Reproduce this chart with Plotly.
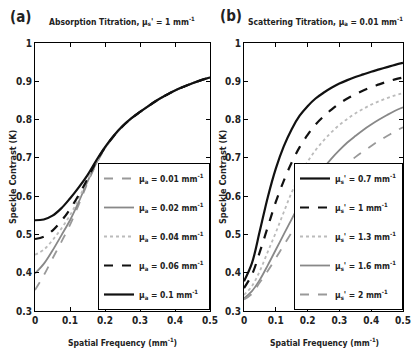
import plotly.graph_objects as go

freq = [0, 0.025, 0.05, 0.075, 0.1, 0.125, 0.15, 0.175, 0.2, 0.225, 0.25,
        0.275, 0.3, 0.325, 0.35, 0.375, 0.4, 0.425, 0.45, 0.475, 0.5]

# Panel (a): absorption titration (mu_a values), speckle contrast K
abs_labels = ["0.01", "0.02", "0.04", "0.06", "0.1"]
abs_k = [
    [0.355, 0.393, 0.437, 0.480, 0.525, 0.578, 0.634, 0.684, 0.725, 0.756, 0.782, 0.803, 0.820,
     0.836, 0.851, 0.864, 0.876, 0.886, 0.895, 0.903, 0.910],
    [0.398, 0.423, 0.458, 0.497, 0.537, 0.585, 0.638, 0.686, 0.726, 0.756, 0.782, 0.803, 0.820,
     0.836, 0.851, 0.864, 0.876, 0.886, 0.895, 0.903, 0.910],
    [0.447, 0.460, 0.485, 0.515, 0.550, 0.594, 0.642, 0.688, 0.726, 0.757, 0.782, 0.803, 0.820,
     0.836, 0.851, 0.864, 0.876, 0.886, 0.895, 0.903, 0.910],
    [0.488, 0.494, 0.510, 0.535, 0.566, 0.603, 0.645, 0.690, 0.727, 0.757, 0.782, 0.803, 0.820,
     0.836, 0.851, 0.864, 0.876, 0.886, 0.895, 0.903, 0.910],
    [0.537, 0.539, 0.549, 0.568, 0.594, 0.623, 0.655, 0.693, 0.728, 0.758, 0.783, 0.803, 0.820,
     0.836, 0.851, 0.864, 0.876, 0.886, 0.895, 0.903, 0.910],
]

# Panel (b): scattering titration (mu_s' values), speckle contrast K
sca_labels = ["0.7", "1", "1.3", "1.6", "2"]
sca_k = [
    [0.378, 0.425, 0.510, 0.598, 0.672, 0.730, 0.775, 0.810, 0.835, 0.855, 0.870, 0.883, 0.894,
     0.903, 0.911, 0.918, 0.925, 0.931, 0.937, 0.943, 0.948],
    [0.360, 0.395, 0.455, 0.520, 0.585, 0.640, 0.688, 0.728, 0.760, 0.787, 0.808, 0.826, 0.842,
     0.855, 0.866, 0.876, 0.885, 0.892, 0.899, 0.905, 0.910],
    [0.342, 0.365, 0.405, 0.455, 0.505, 0.558, 0.610, 0.652, 0.690, 0.720, 0.745, 0.767, 0.786,
     0.802, 0.816, 0.828, 0.839, 0.848, 0.856, 0.863, 0.869],
    [0.333, 0.352, 0.382, 0.420, 0.460, 0.500, 0.540, 0.578, 0.613, 0.645, 0.673, 0.698, 0.720,
     0.740, 0.757, 0.773, 0.787, 0.800, 0.812, 0.823, 0.832],
    [0.330, 0.345, 0.375, 0.405, 0.438, 0.472, 0.505, 0.537, 0.568, 0.596, 0.622, 0.645, 0.666,
     0.685, 0.702, 0.717, 0.731, 0.745, 0.757, 0.769, 0.780],
]

x_ticks = [0, 0.1, 0.2, 0.3, 0.4, 0.5]
x_ticktext = ["0", "0.1", "0.2", "0.3", "0.4", "0.5"]
y_ticks = [0.3, 0.4, 0.5, 0.6, 0.7, 0.8, 0.9, 1.0]
y_ticktext = ["0.3", "0.4", "0.5", "0.6", "0.7", "0.8", "0.9", "1"]

styles_a = [
    dict(color="#999999", dash="dash", width=1.8),
    dict(color="#888888", dash="solid", width=1.8),
    dict(color="#bbbbbb", dash="dot", width=1.8),
    dict(color="#111111", dash="dash", width=2.2),
    dict(color="#111111", dash="solid", width=2.2),
]
styles_b = [
    dict(color="#111111", dash="solid", width=2.2),
    dict(color="#111111", dash="dash", width=2.2),
    dict(color="#bbbbbb", dash="dot", width=1.8),
    dict(color="#888888", dash="solid", width=1.8),
    dict(color="#999999", dash="dash", width=1.8),
]

FONT = "Liberation Sans Narrow, DejaVu Sans Condensed, Liberation Sans, Arial, sans-serif"
OFF = 8  # default page body margin
W, H = 419 - 2 * OFF, 356 - 2 * OFF

fig = go.Figure()
for i, lab in enumerate(abs_labels):
    fig.add_trace(go.Scatter(
        x=freq, y=abs_k[i], mode="lines", line=dict(shape="spline", **styles_a[i]),
        name=f"μ<sub>a</sub> = {lab} mm<sup>-1</sup>", xaxis="x", yaxis="y",
        legend="legend", legendgroup=f"a{i}"))
for i, lab in enumerate(sca_labels):
    fig.add_trace(go.Scatter(
        x=freq, y=sca_k[i], mode="lines", line=dict(shape="spline", **styles_b[i]),
        name=f"μ<sub>s</sub>' = {lab} mm<sup>-1</sup>", xaxis="x2", yaxis="y2",
        legend="legend2", legendgroup=f"b{i}"))

def px(x):
    return (x - OFF) / W

def py(y):
    return 1 - (y - OFF) / H

ydom = [py(311), py(43)]
axis_common = dict(showline=True, linecolor="black", linewidth=1, mirror="ticks",
                   ticks="inside", ticklen=4, tickcolor="black", showgrid=False,
                   zeroline=False, automargin=False,
                   tickfont=dict(family=FONT, size=10, color="#222", weight="bold"))

leg_common = dict(yanchor="top", bgcolor="white", bordercolor="black", borderwidth=1,
                  font=dict(family=FONT, size=8.5, color="#222", weight="bold"),
                  tracegroupgap=10, itemwidth=30)

RIGHT = 403
fig.update_layout(
    width=W, height=H, margin=dict(l=0, r=0, t=0, b=0, autoexpand=False),
    paper_bgcolor="white", plot_bgcolor="white",
    font=dict(family=FONT, color="#222"),
    xaxis=dict(domain=[px(35), px(210)], range=[0, 0.5], tickvals=x_ticks, ticktext=x_ticktext,
               anchor="y", **axis_common),
    yaxis=dict(domain=ydom, range=[0.3, 1.0], tickvals=y_ticks, ticktext=y_ticktext,
               anchor="x", **axis_common),
    xaxis2=dict(domain=[px(244), px(RIGHT)], range=[0, 0.5], tickvals=x_ticks, ticktext=x_ticktext,
                anchor="y2", **axis_common),
    yaxis2=dict(domain=ydom, range=[0.3, 1.0], tickvals=y_ticks, ticktext=y_ticktext,
                anchor="x2", **axis_common),
    legend=dict(x=px(210), y=py(163), xanchor="right", **leg_common),
    legend2=dict(x=px(RIGHT), y=py(163), xanchor="right", **leg_common),
    showlegend=True,
)

ann_font = dict(family=FONT, size=8.5, color="#222", weight="bold")

def ann(xc, yc, text, font=ann_font, angle=0, xanchor="center"):
    fig.add_annotation(x=px(xc), y=py(yc), xref="paper", yref="paper", showarrow=False,
                       xanchor=xanchor, yanchor="middle", text=text, textangle=angle, font=font)

ann(122, 21, "Absorption Titration, μ<sub>s</sub>' = 1 mm<sup>-1</sup>")
ann(325, 21, "Scattering Titration, μ<sub>a</sub> = 0.01 mm<sup>-1</sup>")
ann(8, 17, "(a)", dict(family=FONT, size=15, color="#222", weight="bold"), xanchor="left")
ann(218, 16, "(b)", dict(family=FONT, size=15, color="#222", weight="bold"), xanchor="left")
for xc in (122, 324):
    ann(xc, 342, "Spatial Frequency (mm<sup>-1</sup>)")
for xc in (13, 223):
    ann(xc, 177, "Speckle Contrast (K)", font=dict(family=FONT, size=9, color="#222", weight="bold"),
        angle=-90)

fig.write_html("out.html")
